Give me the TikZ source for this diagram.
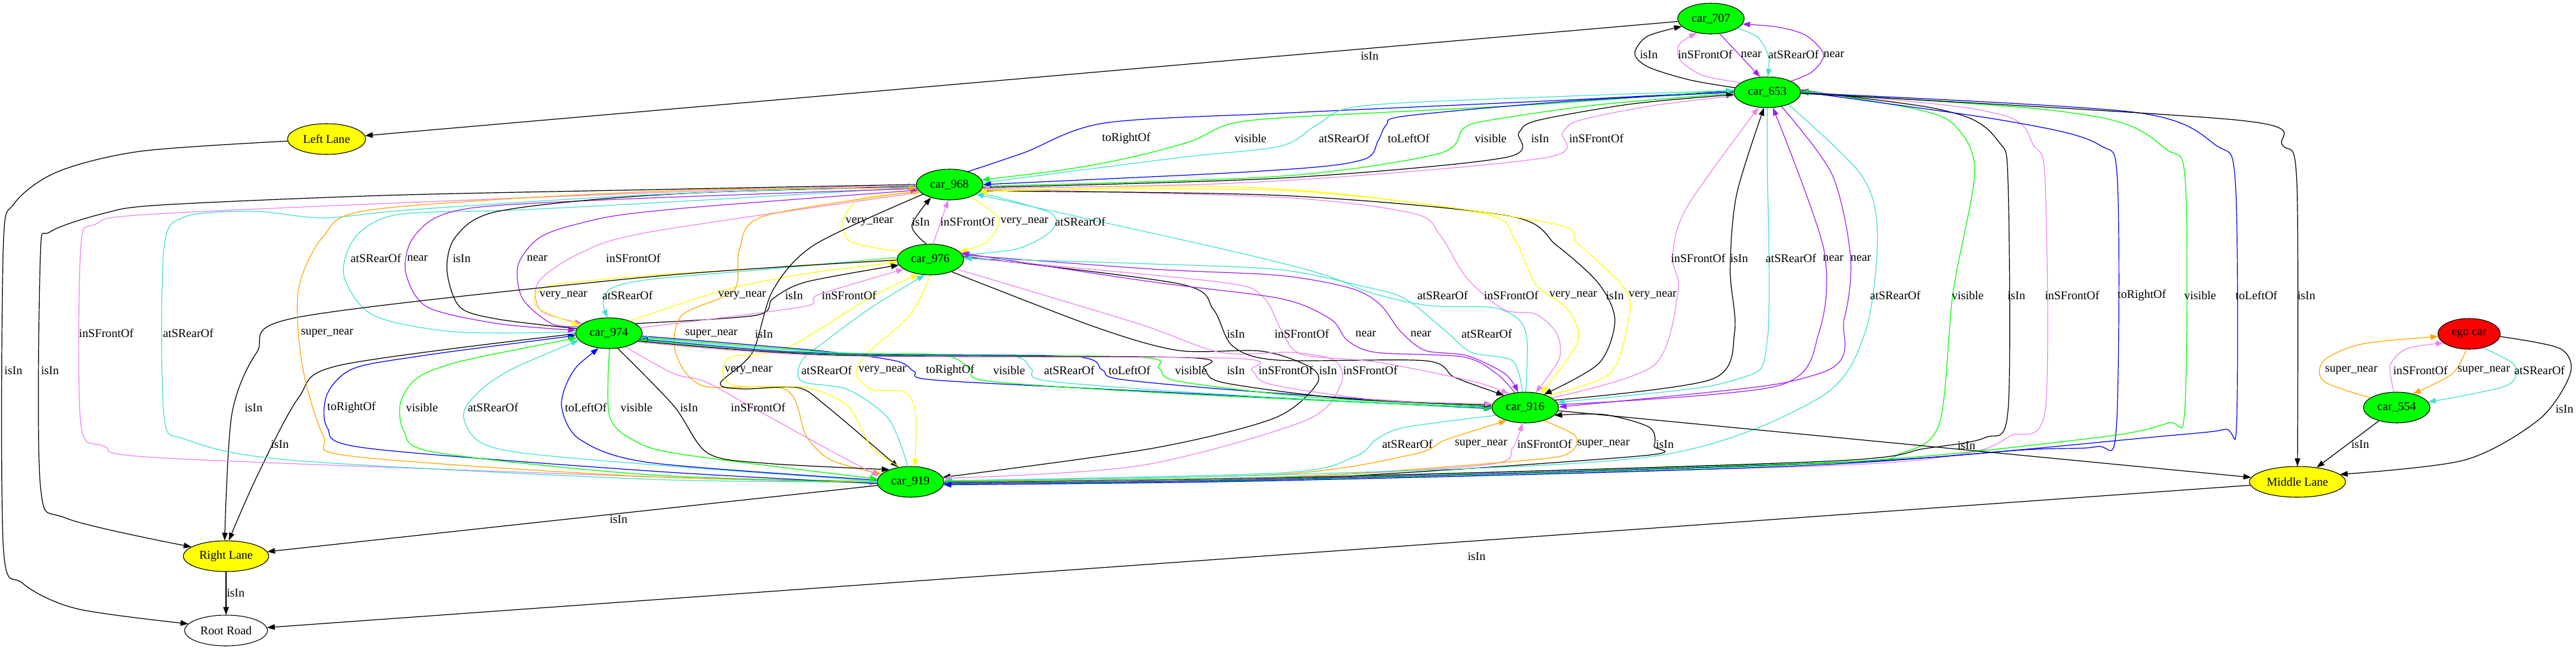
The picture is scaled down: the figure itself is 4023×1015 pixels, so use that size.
\documentclass[tikz,border=0pt]{standalone}
\usepackage{fontspec}
\setmainfont{Liberation Serif}
\usetikzlibrary{shapes.geometric,arrows.meta}
\definecolor{gvgreen}{RGB}{0,255,0}
\definecolor{gvviolet}{RGB}{238,130,238}
\definecolor{gvpurple}{RGB}{160,32,240}
\definecolor{gvturq}{RGB}{64,224,208}
\definecolor{gvorange}{RGB}{255,165,0}
\definecolor{gvyellow}{RGB}{255,255,0}
\definecolor{gvblue}{RGB}{0,0,255}
\definecolor{gvred}{RGB}{255,0,0}
\newcommand\gvf{\fontsize{14}{16}\selectfont}
\tikzset{
  gnode/.style={ellipse,draw=black,line width=0.8pt,inner sep=0pt,minimum height=36pt,font=\gvf},
  carn/.style={gnode,fill=gvgreen,minimum width=78pt},
  lanen/.style={gnode,fill=gvyellow},
  lbl/.style={font=\gvf,inner sep=0pt},
  ed/.style={line width=0.9pt},
  fw/.style={-{Triangle[length=9pt,width=6.5pt]}},
  bw/.style={{Triangle[length=9pt,width=6.5pt]}-},
  rIsIn/.style={ed,draw=black},
  rFront/.style={ed,draw=gvviolet},
  rRear/.style={ed,draw=gvturq},
  rNear/.style={ed,draw=gvpurple},
  rVNear/.style={ed,draw=gvyellow},
  rSNear/.style={ed,draw=gvorange},
  rRight/.style={ed,draw=gvblue},
  rLeft/.style={ed,draw=gvblue},
  rVis/.style={ed,draw=gvgreen},
}
\begin{document}
\begin{tikzpicture}[x=0.75pt,y=-0.75pt]
\useasboundingbox (0,0) rectangle (4023,1015);
% nodes
\node[carn] (c707) at (2672,29) {car\_707};
\node[carn] (c653) at (2760,144) {car\_653};
\node[lanen,minimum width=91.5pt] (LL) at (510,217) {Left Lane};
\node[carn] (c968) at (1483,288) {car\_968};
\node[carn] (c976) at (1453,405) {car\_976};
\node[carn] (c974) at (951,520) {car\_974};
\node[carn] (c916) at (2382,636) {car\_916};
\node[carn] (c919) at (1422,752) {car\_919};
\node[lanen,minimum width=100pt] (RL) at (353,868) {Right Lane};
\node[gnode,fill=white,minimum width=97pt] (RR) at (353,984) {Root Road};
\node[gnode,fill=gvred,minimum width=73pt] (ego) at (3856,521) {ego car};
\node[carn] (c554) at (3743,636) {car\_554};
\node[lanen,minimum width=112.5pt] (ML) at (3588,752) {Middle Lane};

% 707 / 653
\draw[rIsIn,fw] (c707) -- (LL);
\draw[rIsIn,fw] plot[smooth] coordinates {(c653.172) (2640,125) (2575,105) (2553,84) (2572,57) (c707.195)};
\draw[rFront,fw] plot[smooth] coordinates {(c653.160) (2660,118) (2625,95) (2622,70) (c707.225)};
\draw[rNear,fw] (c707.300) -- (c653.115);
\draw[rRear,fw] plot[smooth] coordinates {(c707.340) (2745,58) (2762,88) (c653.88)};
\draw[rNear,fw] plot[smooth] coordinates {(c653.25) (2830,112) (2848,85) (2820,55) (2775,42) (c707.350)};

% 968 / 653
\draw[rRight,fw] plot[smooth] coordinates {(c968.35) (1600,238) (1725,192) (2015,176) (2450,156) (c653.178)};
\draw[rVis,bw] plot[smooth] coordinates {(c968.8) (1680,262) (1777,243) (1861,220) (1919,194) (2015,183) (2400,163) (c653.176)};
\draw[rRear,fw] plot[smooth] coordinates {(c968.3) (1841,246) (2000,228) (2058,194) (2129,165) (2450,150) (c653.177)};
\draw[rLeft,bw] plot[smooth] coordinates {(c968.0) (2000,265) (2129,249) (2152,220) (2165,195) (2195,181) (2450,158) (c653.180)};
\draw[rVis,fw] plot[smooth] coordinates {(c968.357) (2000,275) (2246,240) (2285,201) (2324,188) (2500,163) (c653.182)};
\draw[rIsIn,fw] plot[smooth] coordinates {(c968.355) (2000,278) (2350,246) (2372,207) (2401,188) (2550,162) (c653.184)};
\draw[rFront,bw] plot[smooth] coordinates {(c968.353) (2000,282) (2414,246) (2440,207) (2466,188) (2580,165) (c653.186)};

% 968 / 976
\draw[rVNear,fw] plot[smooth] coordinates {(c976.165) (1330,378) (1317,345) (1345,310) (c968.195)};
\draw[rIsIn,fw] plot[smooth] coordinates {(c976.105) (1424,352) (c968.215)};
\draw[rFront,fw] (c976.80) -- (c968.265);
\draw[rVNear,fw] plot[smooth] coordinates {(c968.330) (1560,342) (1540,378) (c976.15)};
\draw[rRear,fw] plot[smooth] coordinates {(c968.345) (1640,332) (1642,360) (1590,388) (c976.8)};

% 968 / 974
\draw[rRear,bw] plot[smooth] coordinates {(c968.185) (1015,317) (800,328) (620,335) (555,370) (537,430) (583,492) (712,518) (c974.178)};
\draw[rNear,fw] plot[smooth] coordinates {(c968.187) (1015,309) (760,322) (680,340) (641,378) (634,427) (667,479) (777,505) (c974.175)};
\draw[rIsIn,bw] plot[smooth] coordinates {(c968.183) (1015,305) (777,330) (712,369) (698,421) (718,479) (777,498) (c974.172)};
\draw[rNear,bw] plot[smooth] coordinates {(c968.190) (1015,330) (900,350) (841,372) (809,414) (816,466) (861,505) (c974.168)};
\draw[rFront,fw] plot[smooth] coordinates {(c968.195) (1015,362) (906,395) (841,440) (845,485) (c974.160)};

% 976 / 974
\draw[rVNear,fw] plot[smooth] coordinates {(c976.178) (1200,418) (1015,430) (855,447) (838,479) (c974.165)};
\draw[rRear,fw] plot[smooth] coordinates {(c976.176) (1200,420) (1015,436) (955,450) (942,472) (c974.95)};
\draw[rVNear,fw] plot[smooth] coordinates {(c974.30) (1129,453) (1259,427) (c976.185)};
\draw[rIsIn,fw] plot[smooth] coordinates {(c974.20) (1181,492) (1207,466) (1259,440) (c976.190)};
\draw[rFront,fw] plot[smooth] coordinates {(c974.10) (1252,479) (1278,460) (c976.200)};

% lanes
\draw[rIsIn,fw] plot[smooth] coordinates {(c976.181) (1015,432) (466,495) (401,550) (362,647) (RL.95)};
\draw[rIsIn,fw] plot[smooth] coordinates {(c974.181) (531,570) (466,621) (401,744) (RL.80)};
\draw[rIsIn,fw] plot[smooth] coordinates {(c968.180) (1015,296) (600,305) (250,320) (162,333) (78,362) (63,401) (63,757) (104,809) (RL.165)};
\draw[rIsIn,fw] plot[smooth] coordinates {(LL.183) (220,236) (90,268) (22,318) (5,390) (5,850) (35,910) (120,950) (RR.170)};
\draw[rIsIn,fw] (RL) -- (RR);
\draw[rIsIn,fw] (ML) -- (RR);
\draw[rIsIn,fw] (c919) -- (RL);

% 968 / 919
\draw[rFront,fw] plot[smooth] coordinates {(c968.181) (1015,301) (259,333) (149,350) (126,388) (126,660) (162,696) (259,715) (1015,744) (c919.182)};
\draw[rRear,bw] plot[smooth] coordinates {(c968.184) (1015,304) (647,327) (505,340) (400,330) (290,338) (256,388) (256,647) (291,686) (453,718) (1015,748) (c919.180)};
\draw[rSNear,bw] plot[smooth] coordinates {(c968.186) (1015,299) (583,327) (505,369) (466,453) (472,570) (505,680) (550,712) (1015,744) (c919.178)};
\draw[rSNear,fw] plot[smooth] coordinates {(c968.192) (1194,337) (1155,388) (1146,453) (1065,492) (1055,550) (1097,602) (1227,608) (1259,680) (1298,718) (c919.165)};
\draw[rIsIn,fw] plot[smooth] coordinates {(c968.200) (1272,382) (1207,453) (1175,550) (1125,598) (1160,607) (1246,605) (1291,634) (c919.130)};

% 974 / 919
\draw[rRight,bw] plot[smooth] coordinates {(c974.184) (647,557) (550,576) (511,615) (511,667) (570,699) (1015,735) (c919.183)};
\draw[rVis,bw] plot[smooth] coordinates {(c974.188) (680,576) (628,621) (631,673) (680,706) (1015,741) (c919.181)};
\draw[rRear,bw] plot[smooth] coordinates {(c974.193) (777,589) (725,641) (744,686) (809,706) (1015,725) (c919.179)};
\draw[rLeft,bw] plot[smooth] coordinates {(c974.235) (893,583) (877,634) (906,686) (1015,722) (c919.177)};
\draw[rVis,fw] plot[smooth] coordinates {(c974.272) (952,650) (995,690) (1071,710) (c919.175)};
\draw[rIsIn,fw] plot[smooth] coordinates {(c974.300) (1052,633) (1105,707) (1196,723) (c919.150)};
\draw[rFront,fw] plot[smooth] coordinates {(c974.320) (1052,583) (1100,595) (1177,637) (1291,700) (c919.170)};

% 976 / 919
\draw[rVNear,fw] plot[smooth] coordinates {(c919.125) (1362,699) (1324,634) (1259,605) (1149,602) (1129,583) (1142,557) (1227,544) (1356,466) (c976.230)};
\draw[rRear,fw] plot[smooth] coordinates {(c919.100) (1388,654) (1324,608) (1252,595) (1252,563) (1291,531) (1362,479) (c976.250)};
\draw[rVNear,fw] plot[smooth] coordinates {(c976.270) (1421,492) (1356,550) (1337,583) (1362,608) (1414,612) (1430,647) (c919.75)};
\draw[rIsIn,fw] plot[smooth] coordinates {(c976.330) (1712,511) (1841,547) (1970,548) (2046,573) (2056,600) (1989,653) (1798,700) (c919.8)};
\draw[rFront,fw] plot[smooth] coordinates {(c976.340) (1777,505) (1906,550) (2018,550) (2085,563) (2094,600) (2037,657) (1779,727) (c919.6)};

% 974 / 916
\draw[rRight,fw] plot[smooth] coordinates {(c974.355) (1275,547) (1398,563) (1428,580) (1459,593) (1779,610) (c916.182)};
\draw[rVis,fw] plot[smooth] coordinates {(c974.353) (1300,550) (1470,554) (1515,575) (1545,595) (1850,615) (c916.181)};
\draw[rRear,bw] plot[smooth] coordinates {(c974.351) (1300,551) (1570,555) (1610,575) (1640,595) (1950,618) (c916.180)};
\draw[rLeft,bw] plot[smooth] coordinates {(c974.349) (1300,552) (1670,556) (1721,577) (1750,592) (1970,612) (c916.179)};
\draw[rVis,bw] plot[smooth] coordinates {(c974.347) (1300,553) (1770,557) (1810,575) (1840,595) (2050,620) (c916.178)};
\draw[rIsIn,fw] plot[smooth] coordinates {(c974.345) (1300,554) (1850,558) (1880,575) (1910,597) (2100,622) (c916.176)};
\draw[rFront,fw] plot[smooth] coordinates {(c974.343) (1300,555) (1920,559) (1955,578) (1985,600) (2150,624) (c916.174)};

% 976 / 916
\draw[rIsIn,fw] plot[smooth] coordinates {(c976.5) (1842,443) (1895,483) (1925,540) (1995,562) (2226,563) (2272,589) (c916.150)};
\draw[rFront,fw] plot[smooth] coordinates {(c976.3) (1903,440) (1972,463) (2002,517) (2033,553) (2150,565) (2300,595) (c916.140)};
\draw[rNear,fw] plot[smooth] coordinates {(c976.8) (1800,420) (2000,430) (2110,450) (2155,475) (2188,518) (2226,547) (2291,555) (2350,583) (c916.115)};
\draw[rNear,bw] plot[smooth] coordinates {(c976.12) (1800,440) (2000,466) (2078,498) (2104,531) (2149,550) (2285,557) (2337,583) (c916.125)};
\draw[rRear,bw] plot[smooth] coordinates {(c976.2) (1800,412) (2000,421) (2129,447) (2194,466) (2259,518) (2298,550) (2362,563) (c916.100)};

% 968 / 916
\draw[rRear,bw] plot[smooth] coordinates {(c968.340) (2015,414) (2141,457) (2232,477) (2332,480) (2373,500) (2385,533) (c916.88)};
\draw[rFront,fw] plot[smooth] coordinates {(c968.352) (2000,308) (2207,333) (2249,367) (2290,433) (2348,483) (2398,490) (2431,520) (2435,560) (c916.55)};
\draw[rVNear,fw] plot[smooth] coordinates {(c968.350) (2000,297) (2315,333) (2365,373) (2398,443) (2448,483) (2464,533) (c916.42)};
\draw[rIsIn,fw] plot[smooth] coordinates {(c968.348) (2000,305) (2356,337) (2431,383) (2497,443) (2522,500) (2497,567) (c916.35)};
\draw[rVNear,bw] plot[smooth] coordinates {(c968.346) (2000,295) (2415,347) (2464,380) (2539,453) (2543,500) (2514,583) (c916.28)};

% 916 / 919
\draw[rRear,fw] plot[smooth] coordinates {(c916.195) (2194,667) (2149,686) (2117,712) (2000,738) (c919.2)};
\draw[rSNear,fw] plot[smooth] coordinates {(c919.1) (2000,740) (2207,709) (2259,686) (c916.215)};
\draw[rFront,fw] plot[smooth] coordinates {(c919.0) (2000,744) (2324,725) (2362,699) (c916.260)};
\draw[rSNear,fw] plot[smooth] coordinates {(c916.325) (2460,680) (2453,705) (2388,718) (2000,745) (c919.359)};
\draw[rIsIn,fw] plot[smooth] coordinates {(c919.358) (2000,748) (2557,712) (2583,696) (2576,667) (2505,647) (c916.345)};

% 653 / 916
\draw[rFront,fw] plot[smooth] coordinates {(c916.20) (2583,570) (2621,453) (2612,401) (2634,324) (c653.240)};
\draw[rIsIn,fw] plot[smooth] coordinates {(c916.14) (2673,592) (2709,518) (2702,421) (2712,304) (c653.258)};
\draw[rRear,bw] plot[smooth] coordinates {(c916.9) (2712,592) (2760,531) (2760,250) (c653.270)};
\draw[rNear,fw] plot[smooth] coordinates {(c916.5) (2777,602) (2841,518) (2848,388) (c653.290)};
\draw[rNear,bw] plot[smooth] coordinates {(c916.1) (2841,583) (2880,498) (2890,401) (2861,272) (c653.315)};

% 653 right bundle to 919
\draw[rRear,fw] plot[smooth] coordinates {(c653.330) (2906,272) (2932,362) (2913,518) (2841,621) (2583,712) (2000,741) (c919.2)};
\draw[rVis,fw] plot[smooth] coordinates {(c653.5) (2995,171) (3054,197) (3084,268) (3050,457) (3029,660) (2970,707) (2850,722) (2000,745) (c919.0)};
\draw[rIsIn,bw] plot[smooth] coordinates {(c653.3) (3054,177) (3122,222) (3136,285) (3136,640) (3100,683) (3006,700) (2850,720) (2000,746) (c919.359)};
\draw[rFront,bw] plot[smooth] coordinates {(c653.2) (3121,178) (3176,227) (3194,285) (3194,640) (3140,680) (3073,707) (2850,727) (2000,747) (c919.358)};
\draw[rRight,bw] plot[smooth] coordinates {(c653.1) (3163,194) (3280,227) (3307,285) (3305,670) (3274,697) (3162,702) (2850,723) (2000,748) (c919.357)};
\draw[rVis,bw] plot[smooth] coordinates {(c653.0) (3267,181) (3383,233) (3413,285) (3412,640) (3386,660) (3274,683) (2850,723) (2000,749) (c919.356)};
\draw[rLeft,fw] plot[smooth] coordinates {(c653.359) (3332,175) (3461,227) (3491,285) (3493,660) (3475,670) (3386,680) (2850,725) (2000,750) (c919.355)};
\draw[rIsIn,fw] plot[smooth] coordinates {(c653.358) (3500,188) (3565,227) (3587,285) (ML.90)};

% 916 -> Middle Lane
\draw[rIsIn,fw] (c916) -- (ML);

% ego cluster
\draw[rSNear,fw] plot[smooth] coordinates {(c554.160) (3629,595) (3629,563) (3688,537) (ego.185)};
\draw[rFront,fw] plot[smooth] coordinates {(c554.100) (3733,570) (3759,544) (ego.200)};
\draw[rSNear,fw] plot[smooth] coordinates {(ego.260) (3830,583) (c554.40)};
\draw[rRear,fw] plot[smooth] coordinates {(ego.315) (3927,570) (3914,602) (c554.10)};
\draw[rIsIn,fw] plot[smooth] coordinates {(ego.355) (3998,544) (4014,583) (3966,654) (3849,718) (ML.10)};
\draw[rIsIn,fw] (c554) -- (ML);

% labels
\node[lbl] (t1) at (2139,87) {isIn};
\node[lbl] (t2) at (2575,85) {isIn};
\node[lbl] (t3) at (2663,85) {inSFrontOf};
\node[lbl] (t4) at (2735,85) {near};
\node[lbl] (t5) at (2801,85) {atSRearOf};
\node[lbl] (t6) at (2864,85) {near};
\node[lbl] (t7) at (1759,216) {toRightOf};
\node[lbl] (t8) at (1953,216) {visible};
\node[lbl] (t9) at (2099,216) {atSRearOf};
\node[lbl] (t10) at (2200,216) {toLeftOf};
\node[lbl] (t11) at (2328,216) {visible};
\node[lbl] (t12) at (2405,216) {isIn};
\node[lbl] (t13) at (2493,216) {inSFrontOf};
\node[lbl] (t14) at (1358,346) {very\_near};
\node[lbl] (t15) at (1438,346) {isIn};
\node[lbl] (t16) at (1511,346) {inSFrontOf};
\node[lbl] (t17) at (1600,346) {very\_near};
\node[lbl] (t18) at (1687,346) {atSRearOf};
\node[lbl] (t19) at (587,403) {atSRearOf};
\node[lbl] (t20) at (652,403) {near};
\node[lbl] (t21) at (721,403) {isIn};
\node[lbl] (t22) at (839,403) {near};
\node[lbl] (t23) at (989,403) {inSFrontOf};
\node[lbl] (t24) at (880,461) {very\_near};
\node[lbl] (t25) at (980,461) {atSRearOf};
\node[lbl] (t26) at (1159,461) {very\_near};
\node[lbl] (t27) at (1240,461) {isIn};
\node[lbl] (t28) at (1326,461) {inSFrontOf};
\node[lbl] (t29) at (396,636) {isIn};
\node[lbl] (t30) at (437,693) {isIn};
\node[lbl] (t31) at (78,578) {isIn};
\node[lbl] (t32) at (21,578) {isIn};
\node[lbl] (t33) at (368,925) {isIn};
\node[lbl] (t34) at (2306,868) {isIn};
\node[lbl] (t35) at (966,810) {isIn};
\node[lbl] (t36) at (166,520) {inSFrontOf};
\node[lbl] (t37) at (294,520) {atSRearOf};
\node[lbl] (t38) at (511,520) {super\_near};
\node[lbl] (t39) at (1111,521) {super\_near};
\node[lbl] (t40) at (1193,521) {isIn};
\node[lbl] (t41) at (549,636) {toRightOf};
\node[lbl] (t42) at (659,636) {visible};
\node[lbl] (t43) at (770,636) {atSRearOf};
\node[lbl] (t44) at (915,636) {toLeftOf};
\node[lbl] (t45) at (994,636) {visible};
\node[lbl] (t46) at (1076,636) {isIn};
\node[lbl] (t47) at (1184,636) {inSFrontOf};
\node[lbl] (t48) at (1169,578) {very\_near};
\node[lbl] (t49) at (1291,578) {atSRearOf};
\node[lbl] (t50) at (1378,578) {very\_near};
\node[lbl] (t51) at (2074,578) {isIn};
\node[lbl] (t52) at (2140,578) {inSFrontOf};
\node[lbl] (t53) at (1484,578) {toRightOf};
\node[lbl] (t54) at (1576,578) {visible};
\node[lbl] (t55) at (1670,578) {atSRearOf};
\node[lbl] (t56) at (1764,578) {toLeftOf};
\node[lbl] (t57) at (1860,578) {visible};
\node[lbl] (t58) at (1930,578) {isIn};
\node[lbl] (t59) at (2008,578) {inSFrontOf};
\node[lbl] (t60) at (1930,521) {isIn};
\node[lbl] (t61) at (2033,521) {inSFrontOf};
\node[lbl] (t62) at (2133,521) {near};
\node[lbl] (t63) at (2219,521) {near};
\node[lbl] (t64) at (2322,521) {atSRearOf};
\node[lbl] (t65) at (2253,461) {atSRearOf};
\node[lbl] (t66) at (2360,461) {inSFrontOf};
\node[lbl] (t67) at (2457,461) {very\_near};
\node[lbl] (t68) at (2522,461) {isIn};
\node[lbl] (t69) at (2581,461) {very\_near};
\node[lbl] (t70) at (2198,693) {atSRearOf};
\node[lbl] (t71) at (2313,693) {super\_near};
\node[lbl] (t72) at (2412,693) {inSFrontOf};
\node[lbl] (t73) at (2504,693) {super\_near};
\node[lbl] (t74) at (2600,693) {isIn};
\node[lbl] (t75) at (2652,403) {inSFrontOf};
\node[lbl] (t76) at (2716,403) {isIn};
\node[lbl] (t77) at (2797,403) {atSRearOf};
\node[lbl] (t78) at (2863,403) {near};
\node[lbl] (t79) at (2906,403) {near};
\node[lbl] (t80) at (2960,461) {atSRearOf};
\node[lbl] (t81) at (3073,461) {visible};
\node[lbl] (t82) at (3149,461) {isIn};
\node[lbl] (t83) at (3236,461) {inSFrontOf};
\node[lbl] (t84) at (3345,461) {toRightOf};
\node[lbl] (t85) at (3436,461) {visible};
\node[lbl] (t86) at (3524,461) {toLeftOf};
\node[lbl] (t87) at (3602,461) {isIn};
\node[lbl] (t88) at (3071,695) {isIn};
\node[lbl] (t89) at (3672,578) {super\_near};
\node[lbl] (t90) at (3780,578) {inSFrontOf};
\node[lbl] (t91) at (3879,578) {super\_near};
\node[lbl] (t92) at (3966,578) {atSRearOf};
\node[lbl] (t93) at (4005,638) {isIn};
\node[lbl] (t94) at (3686,693) {isIn};
\end{tikzpicture}
\end{document}
